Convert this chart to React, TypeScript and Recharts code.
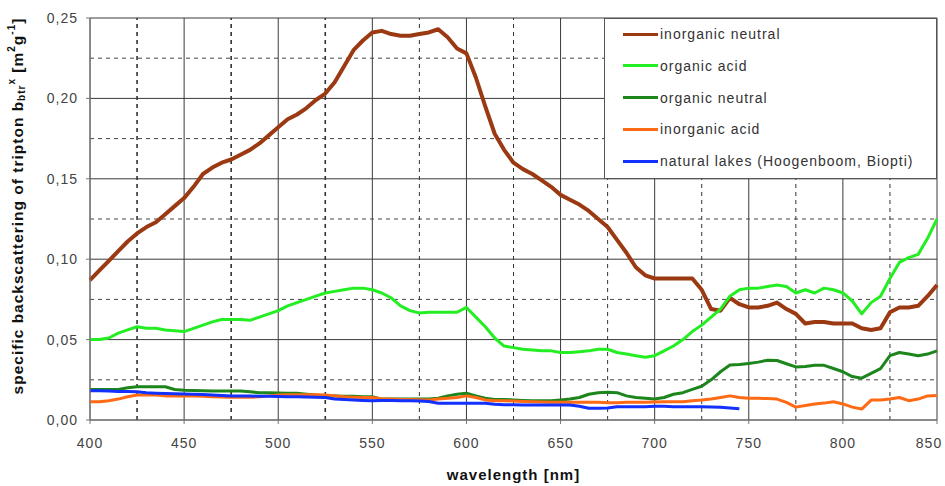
import { LineChart, Line, XAxis, YAxis, CartesianGrid, ReferenceLine, Legend } from 'recharts';

const WAVELENGTHS = [
  400, 405, 410, 415, 420, 425, 430, 435, 440, 445, 450, 455, 460, 465, 470, 475, 480, 485, 490, 495,
  500, 505, 510, 515, 520, 525, 530, 535, 540, 545, 550, 555, 560, 565, 570, 575, 580, 585, 590, 595,
  600, 605, 610, 615, 620, 625, 630, 635, 640, 645, 650, 655, 660, 665, 670, 675, 680, 685, 690, 695,
  700, 705, 710, 715, 720, 725, 730, 735, 740, 745, 750, 755, 760, 765, 770, 775, 780, 785, 790, 795,
  800, 805, 810, 815, 820, 825, 830, 835, 840, 845, 850,
];

const INORGANIC_NEUTRAL = [
  0.087, 0.093, 0.099, 0.105, 0.111, 0.116, 0.12, 0.123, 0.128, 0.133, 0.138, 0.145, 0.153, 0.157, 0.16, 0.162, 0.165, 0.168, 0.172, 0.177,
  0.182, 0.187, 0.19, 0.194, 0.199, 0.203, 0.21, 0.22, 0.23, 0.236, 0.241, 0.242, 0.24, 0.239, 0.239, 0.24, 0.241, 0.243, 0.238, 0.231,
  0.228, 0.213, 0.195, 0.178, 0.168, 0.16, 0.156, 0.153, 0.149, 0.145, 0.14, 0.137, 0.134, 0.13, 0.125, 0.12, 0.112, 0.104, 0.095, 0.09,
  0.088, 0.088, 0.088, 0.088, 0.088, 0.081, 0.069, 0.068, 0.076, 0.072, 0.07, 0.07, 0.071, 0.073, 0.069, 0.066, 0.06, 0.061, 0.061, 0.06,
  0.06, 0.06, 0.057, 0.056, 0.057, 0.067, 0.07, 0.07, 0.071, 0.077, 0.084,
];

const ORGANIC_ACID = [
  0.05, 0.05, 0.051, 0.054, 0.056, 0.058, 0.057, 0.057, 0.056, 0.0555, 0.055, 0.057, 0.059, 0.061, 0.0625, 0.0625, 0.0625, 0.062, 0.064, 0.066,
  0.068, 0.071, 0.073, 0.075, 0.077, 0.079, 0.08, 0.081, 0.082, 0.082, 0.081, 0.079, 0.076, 0.071, 0.068, 0.0665, 0.067, 0.067, 0.067, 0.067,
  0.07, 0.064, 0.058, 0.051, 0.046, 0.045, 0.044, 0.0435, 0.043, 0.043, 0.042, 0.042, 0.0425, 0.043, 0.044, 0.044, 0.042, 0.041, 0.04, 0.039,
  0.04, 0.043, 0.046, 0.05, 0.055, 0.059, 0.064, 0.069, 0.077, 0.081, 0.082, 0.082, 0.083, 0.084, 0.083, 0.079, 0.081, 0.079, 0.082, 0.081,
  0.079, 0.074, 0.066, 0.073, 0.077, 0.088, 0.098, 0.101, 0.103, 0.113, 0.125,
];

const ORGANIC_NEUTRAL = [
  0.019, 0.019, 0.019, 0.019, 0.02, 0.0207, 0.0207, 0.0207, 0.0207, 0.019, 0.0185, 0.0183, 0.0182, 0.0181, 0.018, 0.018, 0.018, 0.0175, 0.017, 0.017,
  0.0168, 0.0166, 0.0166, 0.016, 0.0155, 0.015, 0.015, 0.0148, 0.0147, 0.0145, 0.0145, 0.013, 0.013, 0.013, 0.013, 0.013, 0.013, 0.0135, 0.015, 0.016,
  0.0166, 0.015, 0.0135, 0.0128, 0.0128, 0.0125, 0.0122, 0.012, 0.012, 0.012, 0.0125, 0.013, 0.014, 0.016, 0.017, 0.0172, 0.017, 0.015, 0.014, 0.0135,
  0.013, 0.014, 0.016, 0.017, 0.019, 0.021, 0.025, 0.03, 0.0342, 0.0345, 0.0352, 0.036, 0.0372, 0.037, 0.035, 0.033, 0.0333, 0.034, 0.034, 0.032,
  0.03, 0.027, 0.026, 0.029, 0.032, 0.04, 0.042, 0.041, 0.04, 0.041, 0.043,
];

const INORGANIC_ACID = [
  0.0114, 0.0114, 0.012, 0.013, 0.0145, 0.0155, 0.0155, 0.0155, 0.015, 0.015, 0.015, 0.015, 0.0148, 0.0145, 0.0143, 0.0142, 0.0141, 0.0141, 0.0145, 0.015,
  0.0155, 0.0157, 0.0157, 0.0157, 0.0157, 0.0155, 0.015, 0.0145, 0.0142, 0.014, 0.014, 0.013, 0.013, 0.0128, 0.0127, 0.0126, 0.0125, 0.013, 0.0135, 0.014,
  0.015, 0.014, 0.0125, 0.012, 0.012, 0.0118, 0.0115, 0.0113, 0.0112, 0.011, 0.011, 0.011, 0.011, 0.011, 0.011, 0.0108, 0.0108, 0.011, 0.011, 0.011,
  0.0112, 0.0114, 0.0114, 0.0114, 0.012, 0.0124, 0.013, 0.014, 0.015, 0.014, 0.0135, 0.0135, 0.0133, 0.013, 0.011, 0.008, 0.009, 0.01, 0.0105, 0.0114,
  0.01, 0.008, 0.0068, 0.0124, 0.0125, 0.013, 0.014, 0.012, 0.013, 0.015, 0.0152,
];

// measured only up to ~748 nm
const NATURAL_LAKES = [
  0.0182, 0.0182, 0.018, 0.0178, 0.0177, 0.0175, 0.017, 0.0167, 0.0165, 0.0163, 0.0162, 0.016, 0.0158, 0.0155, 0.0152, 0.015, 0.015, 0.0149, 0.0148, 0.0147,
  0.0146, 0.0145, 0.0145, 0.0143, 0.0142, 0.014, 0.013, 0.0128, 0.0125, 0.0122, 0.012, 0.0122, 0.0122, 0.012, 0.012, 0.0118, 0.0115, 0.0104, 0.0104, 0.0104,
  0.0104, 0.0104, 0.0104, 0.0098, 0.0095, 0.0095, 0.0094, 0.0093, 0.0093, 0.0093, 0.0093, 0.0093, 0.0085, 0.0073, 0.0073, 0.0075, 0.0083, 0.0083, 0.0083, 0.0083,
  0.0085, 0.0085, 0.0083, 0.0083, 0.0083, 0.0082, 0.0081, 0.008, 0.0075, 0.007,
];

const X_TICKS = [400, 450, 500, 550, 600, 650, 700, 750, 800, 850];
const X_MINOR = [425, 475, 525, 575, 625, 675, 725, 775, 825];
const Y_TICKS = [0, 0.05, 0.1, 0.15, 0.2, 0.25];
const Y_MINOR = [0.025, 0.075, 0.125, 0.175, 0.225];

const SERIES = [
  { key: 'inorganicNeutral', name: 'inorganic neutral', color: '#9b3a12', width: 4, values: INORGANIC_NEUTRAL },
  { key: 'organicAcid', name: 'organic acid', color: '#22ee22', width: 3, values: ORGANIC_ACID },
  { key: 'organicNeutral', name: 'organic neutral', color: '#1c861c', width: 3, values: ORGANIC_NEUTRAL },
  { key: 'inorganicAcid', name: 'inorganic acid', color: '#ff6a14', width: 3, values: INORGANIC_ACID },
  { key: 'naturalLakes', name: 'natural lakes (Hoogenboom, Biopti)', color: '#1230ff', width: 3, values: NATURAL_LAKES },
];

const data = WAVELENGTHS.map((w, i) => {
  const row: Record<string, number | undefined> = { w };
  SERIES.forEach(s => { row[s.key] = s.values[i]; });
  return row;
});

const FONT = '"Liberation Sans", Arial, sans-serif';

function YTitle({ viewBox }: any) {
  const cx = viewBox.x + 17;
  const cy = viewBox.y + viewBox.height / 2 - 13;
  return (
    <text
      transform={`translate(${cx},${cy}) rotate(-90)`}
      textAnchor="middle"
      dominantBaseline="central"
      style={{ fontSize: 15.5, fontWeight: 'bold', fill: '#111' }}
    >
      specific backscattering of tripton b
      <tspan fontSize={10} dy={4}>btr</tspan>
      <tspan fontSize={10} dy={-10}>x</tspan>
      <tspan dy={6}> [m</tspan>
      <tspan fontSize={10} dy={-6}>2</tspan>
      <tspan dy={6}>g</tspan>
      <tspan fontSize={10} dy={-6}>-1</tspan>
      <tspan dy={6}>]</tspan>
    </text>
  );
}

function XTitle({ viewBox }: any) {
  return (
    <text
      x={viewBox.x + viewBox.width / 2}
      y={viewBox.y + viewBox.height - 6}
      textAnchor="middle"
      style={{ fontSize: 15, fontWeight: 'bold', fill: '#111' }}
    >
      wavelength [nm]
    </text>
  );
}

// last label sits on the right edge, nudge it in so it is not clipped
function XTick({ x, y, payload }: any) {
  const dx = payload.value === 850 ? -8 : 0;
  return (
    <text x={x + dx} y={y} dy="0.71em" textAnchor="middle" fontSize={14} fill="#444">
      {payload.value}
    </text>
  );
}

function LegendBox() {
  return (
    <div
      style={{
        width: 331,
        height: 159,
        background: '#fff',
        border: '1px solid #555',
        boxSizing: 'content-box',
        fontFamily: FONT,
        fontSize: 14,
        color: '#333',
        position: 'relative',
      }}
    >
      {SERIES.map((s, i) => (
        <div
          key={s.key}
          style={{ position: 'absolute', left: 18, top: 15 + i * 31.8 - 10, height: 20, display: 'flex', alignItems: 'center' }}
        >
          <div style={{ width: 35, height: 3, background: s.color }} />
          <span style={{ marginLeft: 2, whiteSpace: 'nowrap' }}>{s.name}</span>
        </div>
      ))}
    </div>
  );
}

export default function App() {
  return (
    <div style={{ position: 'absolute', left: 0, top: 0, width: 945, height: 486, background: '#fff' }}>
      <LineChart
        width={945}
        height={486}
        data={data}
        margin={{ top: 18, right: 8, left: 0, bottom: 0 }}
        style={{ fontFamily: FONT, letterSpacing: '1px' }}
      >
        <CartesianGrid stroke="#3a3a3a" />
        {X_MINOR.map(x => (
          <ReferenceLine key={`x${x}`} x={x} stroke="#333" strokeDasharray="4 4" strokeWidth={x < 550 ? 1.6 : 1} />
        ))}
        {Y_MINOR.map(y => (
          <ReferenceLine key={`y${y}`} y={y} stroke="#444" strokeDasharray="4 4" />
        ))}
        <XAxis
          dataKey="w"
          type="number"
          domain={[400, 850]}
          ticks={X_TICKS}
          interval={0}
          height={66}
          tickSize={4}
          tickMargin={14}
          stroke="#777"
          tick={<XTick />}
          label={<XTitle />}
        />
        <YAxis
          type="number"
          domain={[0, 0.25]}
          ticks={Y_TICKS}
          interval={0}
          width={90}
          tickSize={4}
          tickMargin={8}
          stroke="#777"
          tick={{ fontSize: 14, fill: '#444' }}
          tickFormatter={(v: number) => v.toFixed(2).replace('.', ',')}
          label={<YTitle />}
        />
        <Legend
          layout="vertical"
          align="center"
          verticalAlign="middle"
          wrapperStyle={{ left: 604, top: 18, width: 333, height: 161 }}
          content={() => <LegendBox />}
        />
        {SERIES.map(s => (
          <Line
            key={s.key}
            dataKey={s.key}
            name={s.name}
            type="linear"
            stroke={s.color}
            strokeWidth={s.width}
            strokeLinejoin="round"
            dot={false}
            activeDot={false}
            isAnimationActive={false}
          />
        ))}
      </LineChart>
    </div>
  );
}
